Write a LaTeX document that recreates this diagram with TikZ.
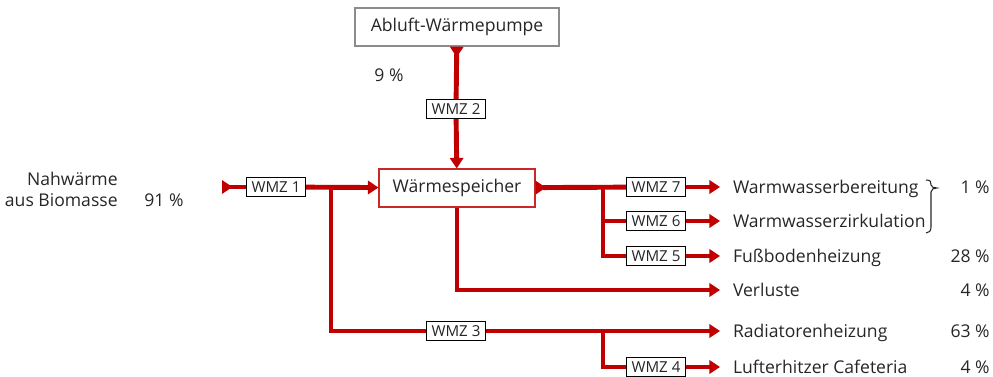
\documentclass[tikz,border=0pt]{standalone}
\usepackage{fontspec}
\setmainfont{Open Sans}
\usetikzlibrary{positioning,arrows.meta}
\definecolor{flowred}{RGB}{192,0,0}
\definecolor{boxred}{RGB}{200,40,40}
\definecolor{boxgrey}{RGB}{140,140,140}
\begin{document}
\begin{tikzpicture}[
  x=0.02cm, y=-0.02cm,
  font=\fontsize{10}{12}\selectfont, text=black!85,
  flow/.style = {draw=flowred, line width=2.8pt},
  feed/.style = {flow, -{Triangle[length=6pt,width=7.5pt]}},
  source/.style = {flow, {Triangle[reversed,length=6pt,width=7.5pt]}-},
  unit/.style = {
    rectangle, draw=boxgrey, thick, fill=white,
    minimum width=4.08cm, minimum height=0.76cm, inner sep=0pt,
  },
  store/.style = {
    rectangle, draw=boxred, semithick, fill=white,
    minimum width=3.12cm, minimum height=0.76cm, inner sep=0pt,
  },
  wmz/.style = {
    rectangle, draw=black, thick, fill=white, text=black!85,
    font=\fontsize{8.6}{10}\selectfont,
    minimum width=1.18cm, minimum height=0.38cm, inner sep=0pt,
  },
  target/.style = {anchor=west, inner sep=0pt, outer xsep=7.4pt,
    text height=7.5pt, text depth=0pt},
  share/.style = {anchor=east, inner sep=0pt, text height=7.5pt, text depth=0pt},
]
  \useasboundingbox (0,0) rectangle (993,377);

  \node[unit]  (wp)       at (457,27)  {Abluft-Wärmepumpe};
  \node[store] (speicher) at (457,188) {Wärmespeicher};

  \node[wmz] (wmz1) at (276,187) {WMZ 1};
  \node[wmz] (wmz2) at (456,109) {WMZ 2};
  \node[wmz] (wmz3) at (456,331) {WMZ 3};
  \node[wmz] (wmz4) at (656,367) {WMZ 4};
  \node[wmz] (wmz5) at (656,256) {WMZ 5};
  \node[wmz] (wmz6) at (656,221) {WMZ 6};
  \node[wmz] (wmz7) at (656,187) {WMZ 7};

  \node[target] (wwb)  at (720,187) {Warmwasserbereitung};
  \node[target] (wwz)  at (720,221) {Warmwasserzirkulation};
  \node[target] (fbh)  at (720,256) {Fußbodenheizung};
  \node[target] (verl) at (720,290) {Verluste};
  \node[target] (rad)  at (720,331) {Radiatorenheizung};
  \node[target] (luft) at (720,367) {Lufterhitzer Cafeteria};

  \node[share] (p1)  at (990,187) {1 \%};
  \node[share] (p28) at (990,256) {28 \%};
  \node[share] (p4a) at (990,290) {4 \%};
  \node[share] (p63) at (990,331) {63 \%};
  \node[share] (p4b) at (990,367) {4 \%};

  \node[anchor=east, align=right, inner sep=0pt] (bio) at (118,189) {Nahwärme\\aus Biomasse};
  \node (p91) at (164,200) {91 \%};
  \node (p9)  at (389,75)  {9 \%};

  \coordinate (in) at (222,187);
  \coordinate (j1) at (603,187);
  \coordinate (j3) at (331,187);
  \coordinate (j4) at (603,331);

  \draw[source] (in) -- (wmz1);
  \draw[feed] (wmz1) -- (speicher);
  \draw[source] (wp) -- (wmz2);
  \draw[feed] (wmz2) -- (speicher);

  \draw[source] (speicher) -- (wmz7);
  \draw[feed] (wmz7) -- (wwb);
  \draw[flow] (j1) |- (wmz5);
  \draw[flow] (j1) |- (wmz6);
  \draw[feed] (wmz6) -- (wwz);
  \draw[feed] (wmz5) -- (fbh);
  \draw[feed] (speicher) |- (verl);

  \draw[flow] (j3) |- (wmz3);
  \draw[feed] (wmz3) -- (rad);
  \draw[flow] (j4) |- (wmz4);
  \draw[feed] (wmz4) -- (luft);

  \draw[black!85, semithick] (926,180) .. controls (931,180) and (931,182) .. (931,185)
    .. controls (931,187) and (934,188) .. (937,188)
    .. controls (934,188) and (931,189) .. (931,192) -- (931,227)
    .. controls (931,231) and (929,233) .. (926,233);
\end{tikzpicture}
\end{document}
